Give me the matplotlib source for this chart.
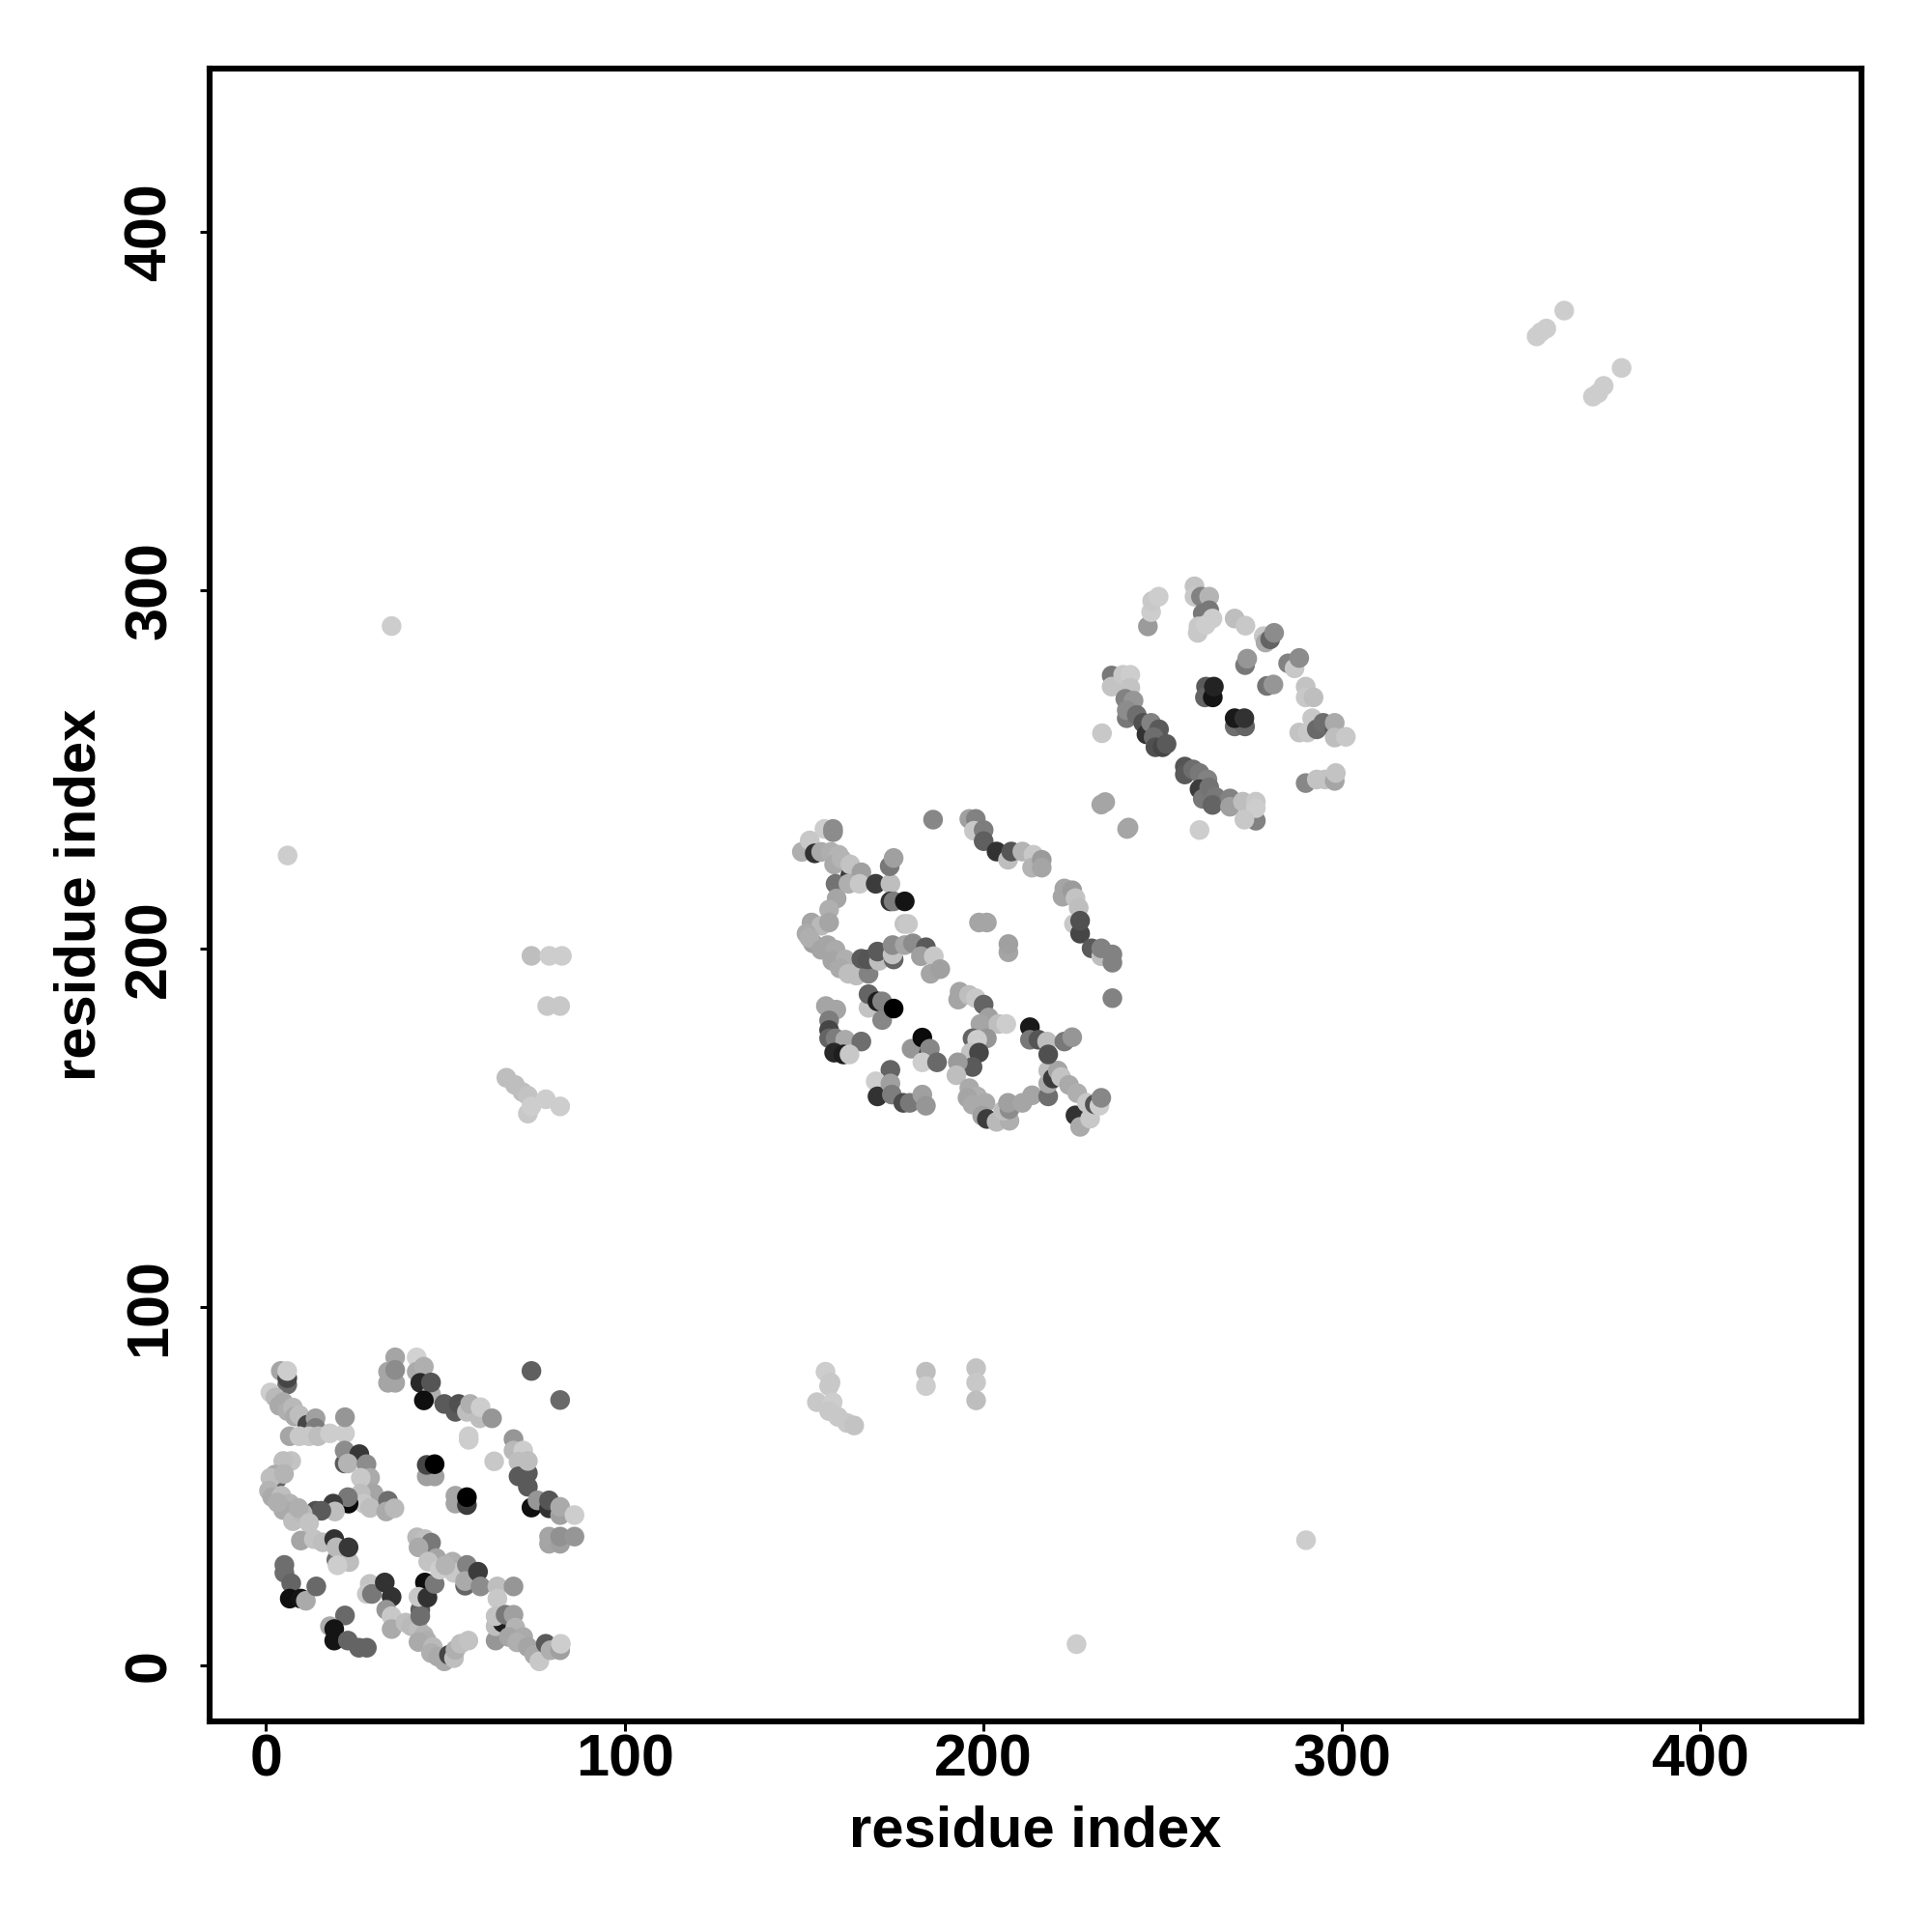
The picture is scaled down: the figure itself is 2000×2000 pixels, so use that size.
import matplotlib
matplotlib.use("Agg")
import matplotlib.pyplot as plt

plt.rcParams['font.family'] = ['Liberation Sans', 'DejaVu Sans']
plt.rcParams['font.weight'] = 'bold'

# points of the first block, each row is x, y, grey level (0-255)
block_a = [
    (4.1,82.2,165),(5.9,78.4,105),(5.9,80.2,70),(5.9,82.2,205),(1.2,76.2,205),(2.6,74.8,185),(3.7,72.5,170),(4.8,73.5,170),(6,71,175),(7.5,72,185),(8,69.5,170),
    (9.3,69.9,190),(11.5,67.2,70),(13.8,69,160),(13.8,66.3,125),(6.6,64,165),(9.3,64,200),(12,64,200),(14.5,64,190),
    (17.8,64.8,205),(22,64.8,205),(22,69.3,150),(21.9,56.4,90),(21.9,60,140),(26,59,55),(22.8,56.4,180),
    (28,56.2,140),(29,52.4,170),(26.4,52.4,200),(30,48,165),(26.4,48,190),(27.3,45.2,200),(29,44,190),(34,46,110),
    (33.5,43,170),(35.8,43.9,185),(23,45.2,10),(22.8,47,120),(18.7,45.2,60),(19.2,43,190),(13.8,43.2,80),
    (15.4,43.2,90),(7,57.1,195),(4.8,57.1,190),(3,52,100),(2.5,53.3,170),(1.2,52.4,190),(0.8,48.8,180),(5,53.5,180),
    (1.7,47,170),(4.3,47.4,190),(6.6,45.2,180),(4.8,43.4,170),(7.9,43,170),(7.5,40.3,190),(10.2,42.5,185),(9,44,175),(3.2,45.5,175),
    (12,39.8,195),(9.7,34.9,165),(13.3,35.3,195),(15.8,34.4,190),(19,35.3,50),(19.6,29.5,110),(19.6,33,185),
    (23.2,28.9,190),(19.9,28,205),(23,33,55),(5.1,28.1,110),(5.1,25.9,110),(7,23,100),(6.6,18.7,15),
    (9.7,18.7,20),(11.1,18.1,170),(14,22.1,105),(22,14,105),(17.8,11,170),(19,10.2,20),(19,7,20),
    (22.8,7,100),(25.9,5,100),(28.1,5,100),(28.9,22.8,195),(28.1,20,200),(29.5,20,120),(33.1,23.2,50),
    (35,19.2,50),(33.5,15.6,150),(35,13.8,200),(35,10.2,170),(38.9,12,190),(40.5,11,185),(42.5,10.2,190),(43,15.6,95),
    (43,13.8,110),(44.3,23.2,15),(42.5,19.2,200),(45,19,50),(47,22.8,120),(44,8.5,180),(44.8,7,175),(42.5,6.6,170),
    (46.5,5.2,185),(46,3.5,175),(47.9,2.5,170),(49.7,1.2,170),(51,3,70),(52.4,2.1,190),(52.8,4.4,175),(54.2,6.1,190),
    (56.4,7,195),(42.1,35.8,185),(44.3,35.3,190),(46,34.3,120),(42.5,33,170),(47.5,30,165),(45.2,29,195),
    (48.4,26.8,205),(52,29,175),(52.4,25.9,200),(50,28,180),(56,28.1,130),(55.5,22.3,100),(55.5,23.6,170),(59.1,26.2,60),
    (59.8,22.1,140),(64.5,22.1,190),(69,22.1,150),(64.5,18.7,200),(64,7,150),(64,11,190),(66,12,30),
    (64,13.8,195),(66.8,14.2,120),(69,14.2,160),(69.5,10.6,180),(67.7,8,165),(71.7,8,170),(70,6.5,175),(73,5.2,165),
    (74.8,3,170),(76.2,1.2,200),(78,6.1,90),(79.3,4.3,175),(82,4.3,160),(82.2,6.1,205),(74,82.2,95),
    (82,74.1,105),(69,63.2,150),(69,60,185),(71.7,60,205),(70.4,56.9,190),(70.4,52.8,90),(73,49.9,90),
    (73,53.7,90),(73,57.1,190),(74,44.1,15),(75.7,46.1,150),(78.9,43.9,50),(78.9,46.1,85),(82,42,160),
    (82,44.3,170),(86,42,205),(78.9,34,165),(78.9,36,165),(82,34,160),(82,36,145),(86,36,150),
    (36,86,165),(34,82,165),(34,78.9,165),(36,78.9,165),(36,82.5,140),(42,86,210),(42,82,170),
    (44,83.4,175),(43,78.9,40),(46,75.7,175),(46,79,85),(44,74,15),(49.7,73,90),(52.8,70.8,90),
    (53.7,73,80),(56,70.8,190),(56.9,73,175),(59.6,69,190),(59.8,72.1,205),(63,69,150),(56.5,63,205),
    (56.5,64,205),(63.6,57,200),(44.8,52.8,160),(47,52.8,160),(44.8,56,70),(47,56.2,0),(52.8,45.2,165),
    (52.8,47.4,165),(56,44.8,60),(56,47,0),
]

# second block
block_b = [
    (149.4,227,175),(151.6,230.2,200),(153,226.6,50),(154.8,227,170),(155.7,233.4,205),(158.1,233.4,140),
    (158.1,232.5,140),(157.5,227,175),(159.7,226.2,180),(158.4,223.5,170),(160.5,225,180),(162.9,220.4,60),(162.9,223.5,195),
    (166,221.3,160),(158.8,218.1,115),(162.4,218.1,175),(165.5,218.1,200),(170,218.1,60),(174.1,218.1,190),
    (173.9,223,120),(175,225.3,160),(174.1,213.2,50),(175,213.2,125),(178.1,213.2,20),(159.1,214,165),
    (157,210.9,175),(152.1,207.3,165),(154.8,206.4,185),(157,207.3,165),(150.7,204.2,170),(152.5,201.5,160),(151.5,203,175),
    (156.6,201,165),(154.8,199.7,165),(158.8,199.7,170),(157.9,196.6,165),(161.5,197,175),(160,194.5,170),(162.4,193,190),
    (164.6,192.5,190),(168,193,130),(166,197.2,90),(167.8,197,85),(170.9,196.6,190),(170.5,199.2,90),
    (175,197,100),(174.7,198.4,195),(174.7,201,140),(178,206.9,195),(179,206.9,200),(178.1,201,165),
    (180.4,201.5,140),(184,200.4,90),(182.6,197.9,160),(186.2,197.9,200),(185.3,193,165),(188,194.3,160),
    (168,183.5,195),(168,187.3,100),(170.5,185.3,30),(171.8,180.1,135),(171.8,185.3,130),(175,183.3,0),
    (156.1,184,165),(159,183,165),(157,180,125),(157,177.3,70),(157,175,100),(158.8,175,125),(161.5,174.6,170),
    (166,174.1,110),(158.4,171,40),(161,170.5,30),(162.7,170.5,200),(180,172.1,150),(183,175.2,10),
    (184.9,171,30),(185.1,172.1,135),(183,168.3,205),(187.1,168.3,105),(174.1,166.2,100),(170,163,205),
    (170.5,158.8,50),(174.1,162.4,160),(174.5,159.3,125),(177.7,157,75),(179.5,157,120),(183,159.3,160),
    (184,156.2,150),(193.4,188,165),(193,185.8,165),(196,187.1,190),(197.9,186.2,200),(200.1,184.4,100),
    (201.5,180.8,160),(199.2,179,165),(204.2,179,190),(206.4,179,205),(197,175,100),(201,175,150),
    (198.3,174.6,205),(196.5,171,195),(198.8,171,70),(197,167,90),(192.9,168.3,155),(192.5,164.7,190),
    (196.1,161.1,170),(198.3,158.8,175),(195.6,158.4,165),(197,156.5,170),(200.6,157,170),(199.7,153.4,160),(201,152.5,60),
    (203.7,151.7,185),(207.3,152,175),(205.5,154.8,190),(207.3,155.2,140),(206.9,157,160),(210.9,157,165),
    (213.6,159.1,165),(218.1,158.8,110),(218.1,162.4,170),(218.1,166,190),(219.4,163.8,60),(220.8,166,165),
    (221.7,164.2,195),(223.9,162,170),(226.2,159.7,175),(225.7,153.5,50),(227,150.3,170),(228.9,157,200),
    (229.8,152.6,200),(231.1,156.6,80),(232.4,156.2,205),(232.9,158.4,135),(213,178.1,25),(213,174.6,120),
    (215.4,174.6,85),(217.8,174.1,190),(218.1,170.5,80),(222.6,174.1,120),(224.8,175.3,150),(186,236,135),
    (196.1,236.2,160),(197.9,236.2,130),(197.4,232.9,200),(200.1,233.1,125),(200.1,230,95),(203.7,227.1,50),
    (206.9,224.8,190),(207.8,227.1,85),(210.9,227.1,180),(214,226.2,200),(213.6,222.6,180),(216.3,224.8,155),
    (216.3,222.6,165),(232.9,240.2,165),(234,240.9,165),(240.1,233.4,165),(240.5,233.8,165),(222.6,216.8,165),
    (222.1,214.5,165),(224.8,216.3,155),(225.7,214.1,195),(226.6,211.4,190),(225.3,206.9,200),(227,204.2,70),
    (227,207.8,80),(230.2,200.1,90),(232.9,197.9,190),(232.9,200.1,130),(236,196.1,130),(236,198.4,130),
    (236,186.2,130),(198.8,207.3,165),(201,207.3,165),(207,199,165),(207,201.3,160),
]

# third block
block_c = [
    (245.9,289.9,155),(246.8,293.9,205),(247.1,297,200),(248.9,298.2,205),(258.9,301.1,195),(258.9,298.2,200),
    (260.7,298.2,130),(263,298.2,180),(261.2,293.5,120),(263,294.4,120),(259.8,288.1,200),(260,289.9,200),
    (262,290.3,205),(263.9,292.1,205),(270.1,292.1,190),(273.1,290.1,200),(278.2,287.2,200),(278.7,285.4,170),
    (280,286.3,100),(281.1,288.1,140),(273,279.1,120),(273.6,280.9,150),(285,279.6,130),(286.8,278.2,200),
    (288.1,281.1,140),(279.1,273.3,115),(280.9,273.7,150),(289.9,273.1,195),(289.9,270.1,200),(292.1,270.1,190),
    (291.7,264.3,200),(288.1,260.3,195),(290.4,260.3,200),(293,261.2,105),(294.8,263,110),(298,260.7,90),
    (298,263,170),(298,258.9,190),(301.1,259.1,200),(289.9,246.2,135),(293,247.2,195),(295.3,247.2,195),
    (298,246.8,165),(298.3,249,195),(262.1,273.1,90),(261.8,270.1,100),(264,270.1,20),(264.3,273.1,35),
    (270.1,262,110),(273,262,100),(270.1,264.3,25),(272.8,264.3,50),(235.8,276.2,120),(235.8,273.1,195),
    (239,276.4,200),(241,276.4,205),(241,272.8,195),(239.6,269.7,130),(241.9,269.2,150),(240,264.3,120),(240,266.5,140),
    (242.8,265.2,110),(244.6,263,80),(245.5,259.8,50),(246.8,263,130),(249,261.2,90),(247.5,259,110),(248,256.2,80),
    (250,256.2,70),(251.1,257.1,90),(233.1,260.1,200),(256.2,250.8,85),(256.2,248.6,90),(258.5,250,110),
    (260.3,249,120),(262.5,247.2,130),(260.3,244.5,60),(261.2,241.8,120),(263,245,115),(264.8,242.3,120),(263.9,240.1,100),
    (268.8,241.9,130),(268.8,239.6,160),(272.4,241,190),(276,241,200),(276,235.7,130),(276,239.2,205),
    (272.8,236,200),(260.3,233.1,205),
]

# far contacts, all pale
block_far = [
    (6,226,205),(35,290,205),(290,35,205),(226,6,205),(354.3,370.8,205),(355.5,372,205),(357,373,205),
    (362,378,205),(370,354,205),(371.5,355,205),(373,357,205),(378,362,205),(74,198,190),(79,198,205),
    (82.5,198,205),(78.4,184,200),(82,184,200),(67,164,190),(69.4,162,190),(71.5,160,190),(73,159,195),
    (73,154,200),(74,156,205),(78,158,205),(82,156,205),(156,82,205),(157,78,200),(157.4,79,200),
    (153.6,73.5,200),(158,73.5,205),(157,71,200),(159.5,69.4,200),(162,67.7,200),(164,67,195),
    (184,82,190),(184,78,205),(198,83,195),(198,79,200),(198,74,190),
]

xticks = [0, 100, 200, 300, 400]

fig = plt.figure(figsize=(10, 10), dpi=200)
ax = fig.add_axes([0.1084, 0.1091, 0.8553, 0.8552])

for block in [block_a, block_b, block_c, block_far]:
    xs = [p[0] for p in block]
    ys = [p[1] for p in block]
    cs = [(p[2]/255, p[2]/255, p[2]/255) for p in block]
    ax.scatter(xs, ys, c=cs, s=54, linewidths=0)

ax.set_xlim(-15.8, 445)
ax.set_ylim(-15.5, 445.4)
ax.set_xticks(xticks)
ax.set_yticks(xticks)
ax.tick_params(axis='both', labelsize=22, width=1.1, length=3.6)
ax.tick_params(axis='x', pad=1)
ax.tick_params(axis='y', pad=8)
plt.setp(ax.get_yticklabels(), rotation=90, va='center')
ax.set_xlabel("residue index", fontsize=21.5, fontweight='bold', labelpad=6)
ax.set_ylabel("residue index", fontsize=21.5, fontweight='bold', labelpad=6)
for s in ax.spines.values():
    s.set_linewidth(2.2)

fig.savefig("out.png", dpi=200)
